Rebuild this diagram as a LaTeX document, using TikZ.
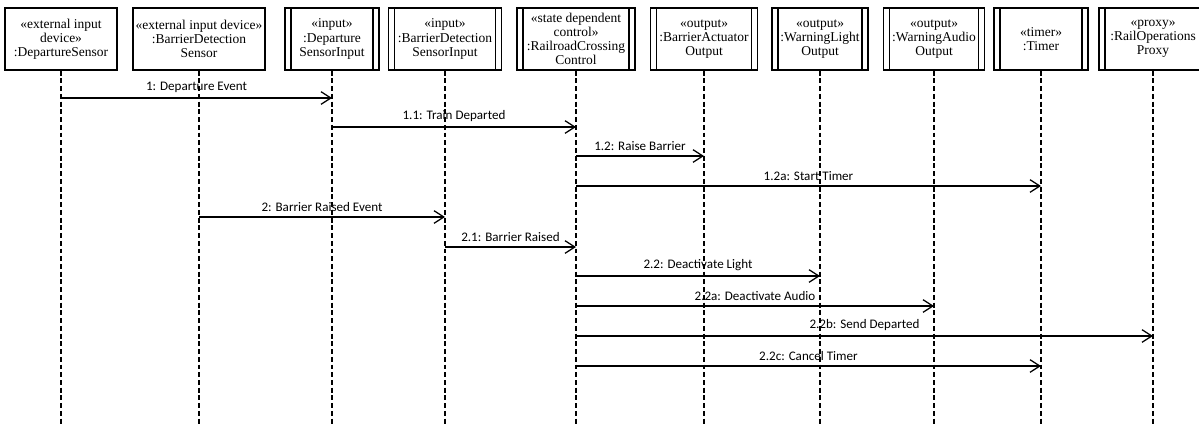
\documentclass[tikz,border=0pt]{standalone}
\usepackage{fontspec}
\setmainfont{Liberation Serif}
\newfontfamily\msgfont{Carlito}
\usetikzlibrary{arrows.meta}

\tikzset{
    obj/.style={draw, line width=0.9pt, minimum height=1.55cm, inner sep=1pt,
        align=center, font=\fontsize{9.6}{10}\selectfont},
    actobj/.style={obj, path picture={
        \draw[line width=0.9pt] ([xshift=4.3pt]path picture bounding box.north west)
            -- ([xshift=4.3pt]path picture bounding box.south west);
        \draw[line width=0.9pt] ([xshift=-4.3pt]path picture bounding box.north east)
            -- ([xshift=-4.3pt]path picture bounding box.south east);}},
    lifeline/.style={line width=0.8pt, dash pattern=on 3.5pt off 2pt},
    msg/.style={line width=0.9pt, -{Straight Barb[length=7pt,width=9pt,line width=0.9pt]}},
    msglabel/.style={above, font=\msgfont\fontsize{9.3}{10}\selectfont},
}

\begin{document}
\begin{tikzpicture}[x=0.025cm, y=-0.025cm]%
    \useasboundingbox (0,0) rectangle (1199,424);
    \coordinate (bottom) at (0,424);

    % objects
    \node[obj, minimum width=2.8cm] (dsensor) at (61,39)
        {«external input\\device»\\:DepartureSensor};
    \node[obj, minimum width=3.3cm] (bdsensor) at (199,39)
        {«external input device»\\:BarrierDetection\\Sensor};
    \node[actobj, minimum width=2.35cm] (dsinput) at (332,39)
        {«input»\\:Departure\\SensorInput};
    \node[actobj, minimum width=2.83cm] (bdsinput) at (445,39)
        {«input»\\:BarrierDetection\\SensorInput};
    \node[actobj, minimum width=2.95cm] (rcc) at (576,39)
        {«state dependent\\control»\\:RailroadCrossing\\Control};
    \node[actobj, minimum width=2.68cm] (baout) at (704,39)
        {«output»\\:BarrierActuator\\Output};
    \node[actobj, minimum width=2.4cm] (wlout) at (820,39)
        {«output»\\:WarningLight\\Output};
    \node[actobj, minimum width=2.53cm] (waout) at (934,39)
        {«output»\\:WarningAudio\\Output};
    \node[actobj, minimum width=2.35cm] (timer) at (1041,39)
        {«timer»\\:Timer};
    \node[actobj, minimum width=2.7cm] (proxy) at (1153,39)
        {«proxy»\\:RailOperations\\Proxy};

    % lifelines
    \draw[lifeline] (dsensor.south) -- (dsensor |- bottom);
    \draw[lifeline] (bdsensor.south) -- (bdsensor |- bottom);
    \draw[lifeline] (dsinput.south) -- (dsinput |- bottom);
    \draw[lifeline] (bdsinput.south) -- (bdsinput |- bottom);
    \draw[lifeline] (rcc.south) -- (rcc |- bottom);
    \draw[lifeline] (baout.south) -- (baout |- bottom);
    \draw[lifeline] (wlout.south) -- (wlout |- bottom);
    \draw[lifeline] (waout.south) -- (waout |- bottom);
    \draw[lifeline] (timer.south) -- (timer |- bottom);
    \draw[lifeline] (proxy.south) -- (proxy |- bottom);

    % message rows
    \coordinate (m1) at (0,98);
    \coordinate (m2) at (0,127);
    \coordinate (m3) at (0,156);
    \coordinate (m4) at (0,186);
    \coordinate (m5) at (0,217);
    \coordinate (m6) at (0,247);
    \coordinate (m7) at (0,276);
    \coordinate (m8) at (0,306);
    \coordinate (m9) at (0,336);
    \coordinate (m10) at (0,366);

    % messages
    \draw[msg] (dsensor |- m1) -- (dsinput |- m1) node[msglabel, midway] {1: Departure Event};
    \draw[msg] (dsinput |- m2) -- (rcc |- m2) node[msglabel, midway] {1.1: Train Departed};
    \draw[msg] (rcc |- m3) -- (baout |- m3) node[msglabel, midway] {1.2: Raise Barrier};
    \draw[msg] (rcc |- m4) -- (timer |- m4) node[msglabel, midway] {1.2a: Start Timer};
    \draw[msg] (bdsensor |- m5) -- (bdsinput |- m5) node[msglabel, midway] {2: Barrier Raised Event};
    \draw[msg] (bdsinput |- m6) -- (rcc |- m6) node[msglabel, midway] {2.1: Barrier Raised};
    \draw[msg] (rcc |- m7) -- (wlout |- m7) node[msglabel, midway] {2.2: Deactivate Light};
    \draw[msg] (rcc |- m8) -- (waout |- m8) node[msglabel, midway] {2.2a: Deactivate Audio};
    \draw[msg] (rcc |- m9) -- (proxy |- m9) node[msglabel, midway] {2.2b: Send Departed};
    \draw[msg] (rcc |- m10) -- (timer |- m10) node[msglabel, midway] {2.2c: Cancel Timer};
\end{tikzpicture}
\end{document}
